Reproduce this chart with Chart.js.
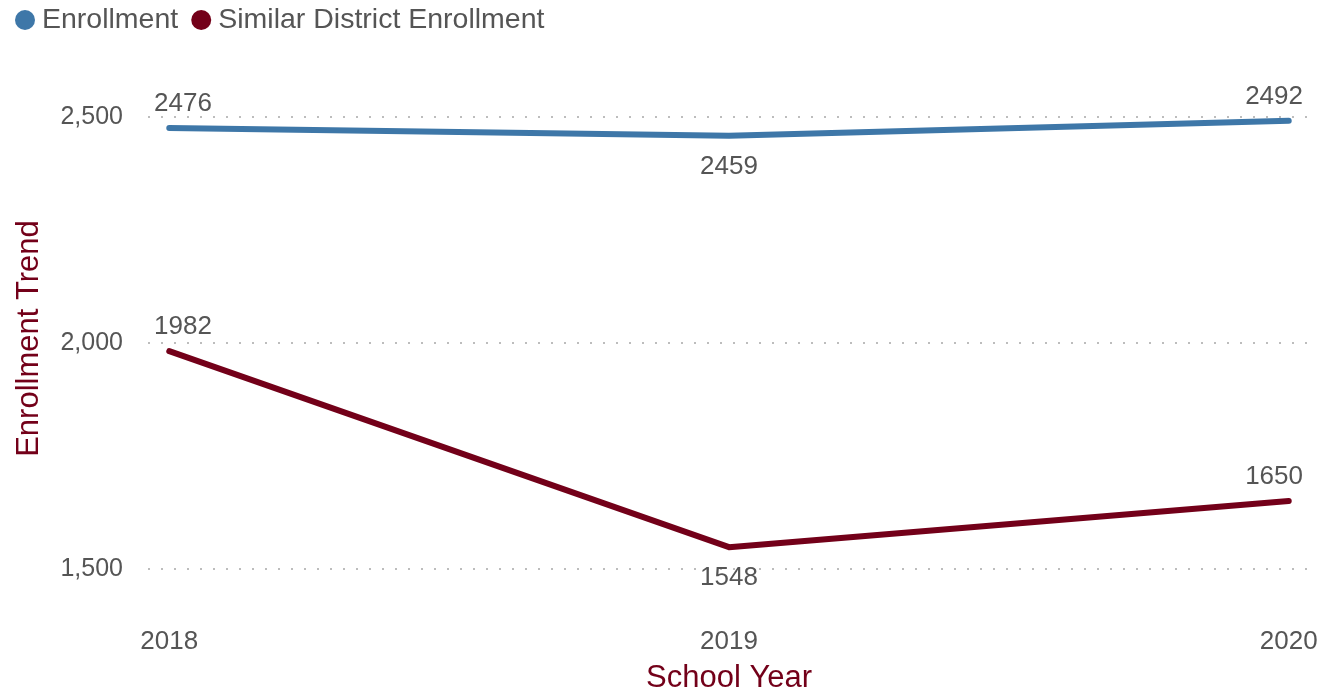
<!DOCTYPE html>
<html>
<head>
<meta charset="utf-8">
<script src="https://cdn.jsdelivr.net/npm/chart.js@4"></script>
<style>
html,body{margin:0;padding:0;background:#fff;}
#c{display:block;}
</style>
</head>
<body>
<canvas id="c" width="1319" height="690"></canvas>
<script>
const years = ["2018", "2019", "2020"];
const enrollment = [2476, 2459, 2492];
const similarEnrollment = [1982, 1548, 1650];
const yTicks = [1500, 2000, 2500];
const seriesNames = ["Enrollment", "Similar District Enrollment"];

const FONT = "'Liberation Sans', Arial, sans-serif";
const BLUE = "#3e77a8";
const MAROON = "#730019";
const TEXT = "#555555";

const toPts = (vals) => vals.map((v, i) => ({ x: Number(years[i]), y: v }));

const labelPlugin = {
  id: "valueLabels",
  afterDatasetsDraw(chart) {
    const ctx = chart.ctx;
    const area = chart.chartArea;
    ctx.save();
    ctx.font = "26px " + FONT;
    ctx.fillStyle = TEXT;
    ctx.textBaseline = "middle";
    chart.data.datasets.forEach((ds, di) => {
      const meta = chart.getDatasetMeta(di);
      meta.data.forEach((pt, i) => {
        const v = ds.data[i].y;
        const prev = i > 0 ? ds.data[i - 1].y : null;
        const next = i < ds.data.length - 1 ? ds.data[i + 1].y : null;
        const isMin = prev !== null && next !== null && v < prev && v < next;
        const txt = String(v);
        const w = ctx.measureText(txt).width;
        let cx = pt.x;
        if (cx - w / 2 < area.left + 6) cx = area.left + 6 + w / 2;
        if (cx + w / 2 > area.right - 7) cx = area.right - 7 - w / 2;
        const cy = isMin ? pt.y + 31 : pt.y - 24;
        ctx.textAlign = "center";
        ctx.fillText(txt, cx, cy);
      });
    });
    ctx.restore();
  }
};

const legendPlugin = {
  id: "customLegend",
  afterDraw(chart) {
    const ctx = chart.ctx;
    ctx.save();
    ctx.font = "28.5px " + FONT;
    ctx.textBaseline = "middle";
    ctx.textAlign = "left";
    let cx = 25;
    const y = 20;
    chart.data.datasets.forEach((ds) => {
      ctx.fillStyle = ds.borderColor;
      ctx.beginPath();
      ctx.arc(cx, y, 10, 0, Math.PI * 2);
      ctx.fill();
      const tx = cx + 17;
      ctx.fillStyle = TEXT;
      ctx.fillText(ds.label, tx, y);
      cx = tx + ctx.measureText(ds.label).width + 23;
    });
    ctx.restore();
  }
};

new Chart(document.getElementById("c"), {
  type: "line",
  data: {
    datasets: [
      {
        label: seriesNames[0],
        data: toPts(enrollment),
        borderColor: BLUE,
        backgroundColor: BLUE,
        borderWidth: 6,
        borderCapStyle: "round",
        borderJoinStyle: "round",
        pointRadius: 0,
        tension: 0
      },
      {
        label: seriesNames[1],
        data: toPts(similarEnrollment),
        borderColor: MAROON,
        backgroundColor: MAROON,
        borderWidth: 6,
        borderCapStyle: "round",
        borderJoinStyle: "round",
        pointRadius: 0,
        tension: 0
      }
    ]
  },
  options: {
    responsive: false,
    animation: false,
    devicePixelRatio: 1,
    layout: { padding: { top: 63, right: 9, left: 0, bottom: 0 } },
    plugins: {
      legend: { display: false },
      tooltip: { enabled: false }
    },
    scales: {
      x: {
        type: "linear",
        min: Number(years[0]) - 0.038,
        max: Number(years[years.length - 1]) + 0.038,
        afterBuildTicks(scale) {
          scale.ticks = years.map((y) => ({ value: Number(y) }));
        },
        afterFit(scale) {
          scale.height = 76;
          scale.paddingLeft = 0;
          scale.paddingRight = 0;
        },
        grid: { display: false, drawTicks: false },
        border: { display: false },
        ticks: {
          callback: (v) => String(v),
          color: TEXT,
          font: { family: FONT, size: 26 },
          padding: 12,
          maxRotation: 0,
          autoSkip: false
        },
        title: {
          display: true,
          text: "School Year",
          color: MAROON,
          font: { family: FONT, size: 31, lineHeight: 1.0 },
          padding: { top: 0, bottom: -4 }
        }
      },
      y: {
        min: 1400,
        max: 2620,
        afterBuildTicks(scale) {
          scale.ticks = yTicks.map((v) => ({ value: v }));
        },
        afterFit(scale) {
          scale.width = 148;
          scale.paddingTop = 0;
          scale.paddingBottom = 0;
        },
        grid: {
          color: "#bdbdbd",
          lineWidth: 2,
          drawTicks: false
        },
        border: { display: false, dash: [2, 11] },
        ticks: {
          callback: (v) => v.toLocaleString("en-US"),
          color: TEXT,
          font: { family: FONT, size: 25 },
          padding: 25
        },
        title: {
          display: true,
          text: "Enrollment Trend",
          color: MAROON,
          font: { family: FONT, size: 31, lineHeight: 1.0 },
          padding: { top: 14, bottom: 0 }
        }
      }
    }
  },
  plugins: [labelPlugin, legendPlugin]
});
</script>
</body>
</html>
